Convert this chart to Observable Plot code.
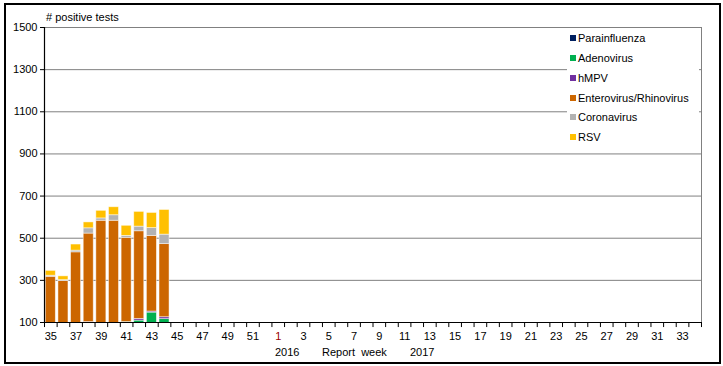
<!DOCTYPE html>
<html>
<head>
<meta charset="utf-8">
<script src="https://cdn.jsdelivr.net/npm/d3@7"></script>
<script src="https://cdn.jsdelivr.net/npm/@observablehq/plot@0.6"></script>
<style>
  body { margin: 0; background: #fff; }
  #wrap { position: relative; width: 723px; height: 366px; font-family: Arial, "Liberation Sans", sans-serif; color: #000; }
  #wrap svg { position: absolute; left: 0; top: 0; }
  .abs { position: absolute; white-space: nowrap; font-size: 11px; line-height: 12px; }
  #border { position: absolute; left: 4px; top: 3px; width: 713px; height: 357px; border: 2px solid #000; pointer-events: none; }
  #legend { position: absolute; left: 567px; top: 28px; width: 132px; height: 120px; background: #fff; }
  .li { position: absolute; left: 3px; font-size: 11px; line-height: 12px; white-space: nowrap; }
  .sw { display: inline-block; width: 6px; height: 6px; margin-right: 2px; vertical-align: 1px; }
</style>
</head>
<body>
<div id="wrap">
  <div id="border"></div>
  <div class="abs" style="left:46px; top:11px;"># positive tests</div>
  <div class="abs" style="left:275px; top:346px;">2016</div>
  <div class="abs" style="left:322px; top:346px;">Report&nbsp; week</div>
  <div class="abs" style="left:410px; top:346px;">2017</div>
  <div id="legend"></div>
</div>
<script>
// Report weeks (2015 week 35 to 2016 week 34)
const weeks = [
  "35","36","37","38","39","40","41","42","43","44","45","46","47","48","49","50","51","52",
  "1","2","3","4","5","6","7","8","9","10","11","12","13","14","15","16","17","18","19","20",
  "21","22","23","24","25","26","27","28","29","30","31","32","33","34"
];
const yTicks = [100, 300, 500, 700, 900, 1100, 1300, 1500];
const viruses = ["Parainfluenza", "Adenovirus", "hMPV", "Enterovirus/Rhinovirus", "Coronavirus", "RSV"];
const colors = ["#002060", "#00B050", "#7030A0", "#CC6600", "#B2B2B2", "#FFC000"];

// Values for weeks 35..44 (remaining weeks have no data yet)
const parainfluenza = [35, 30, 35, 35, 40, 38, 40, 45, 45, 40];
const adenovirus    = [45, 40, 45, 50, 48, 50, 62, 64, 102, 76];
const hmpv          = [10, 10, 12, 17, 10, 10, 0, 8, 5, 9];
const entero        = [227, 217, 341, 420, 485, 485, 400, 416, 359, 347];
const corona        = [5, 4, 8, 25, 11, 26, 9, 22, 37, 45];
const rsv           = [23, 18, 29, 28, 36, 38, 48, 70, 72, 117];

const seriesValues = [parainfluenza, adenovirus, hmpv, entero, corona, rsv];
const data = [];
seriesValues.forEach((vals, si) => {
  vals.forEach((v, i) => data.push({ week: weeks[i], virus: viruses[si], value: v }));
});

const W = 723, H = 366, mL = 44, mR = 22, mT = 27, mB = 44;
const step = (W - mL - mR) / weeks.length;
const labelWeeks = weeks.filter((d, i) => i % 2 === 0);

const plot = Plot.plot({
  width: W,
  height: H,
  marginLeft: mL,
  marginRight: mR,
  marginTop: mT,
  marginBottom: mB,
  style: { fontFamily: "Arial, 'Liberation Sans', sans-serif", fontSize: "11px", background: "transparent", overflow: "visible" },
  x: { domain: weeks, padding: 0, axis: null },
  y: { domain: [100, 1500], axis: null, label: null },
  color: { domain: viruses, range: colors },
  marks: [
    Plot.ruleY(yTicks.slice(1, -1), { stroke: "#808080", strokeWidth: 1 }),
    Plot.frame({ stroke: "#808080", strokeWidth: 1 }),
    Plot.barY(data, {
      x: "week", y: "value", fill: "virus",
      insetLeft: 1.3, insetRight: 1.3,
      stroke: "#fff", strokeOpacity: 0.6, strokeWidth: 0.8,
      clip: true
    }),
    Plot.ruleY([100], { stroke: "#000", strokeWidth: 1.2 }),
    Plot.ruleX([weeks[0]], { x: d => d, y1: 100, y2: 1500, dx: -step / 2, stroke: "#000", strokeWidth: 1.2 }),
    Plot.axisY({ ticks: yTicks, tickSize: 4, tickPadding: 3, fontSize: 11, stroke: "#000", label: null, tickFormat: d => String(d) }),
    Plot.ruleX(weeks, { x: d => d, y1: 100, y2: 76, dx: -step / 2, stroke: "#000", strokeWidth: 1 }),
    Plot.ruleX([weeks[weeks.length - 1]], { x: d => d, y1: 100, y2: 76, dx: step / 2, stroke: "#000", strokeWidth: 1 }),
    Plot.text(labelWeeks, {
      x: d => d, y: 100, dy: 14, text: d => d, fontSize: 11,
      fill: d => d === "1" ? "#990000" : "#000"
    })
  ]
});
document.getElementById("wrap").insertBefore(plot, document.getElementById("border"));

// Legend
const legend = document.getElementById("legend");
const rowY = [4, 24, 44, 64, 83, 103];
viruses.forEach((v, i) => {
  const row = document.createElement("div");
  row.className = "li";
  row.style.top = rowY[i] + "px";
  const sw = document.createElement("span");
  sw.className = "sw";
  sw.style.background = colors[i];
  row.appendChild(sw);
  row.appendChild(document.createTextNode(v));
  legend.appendChild(row);
});
</script>
</body>
</html>
